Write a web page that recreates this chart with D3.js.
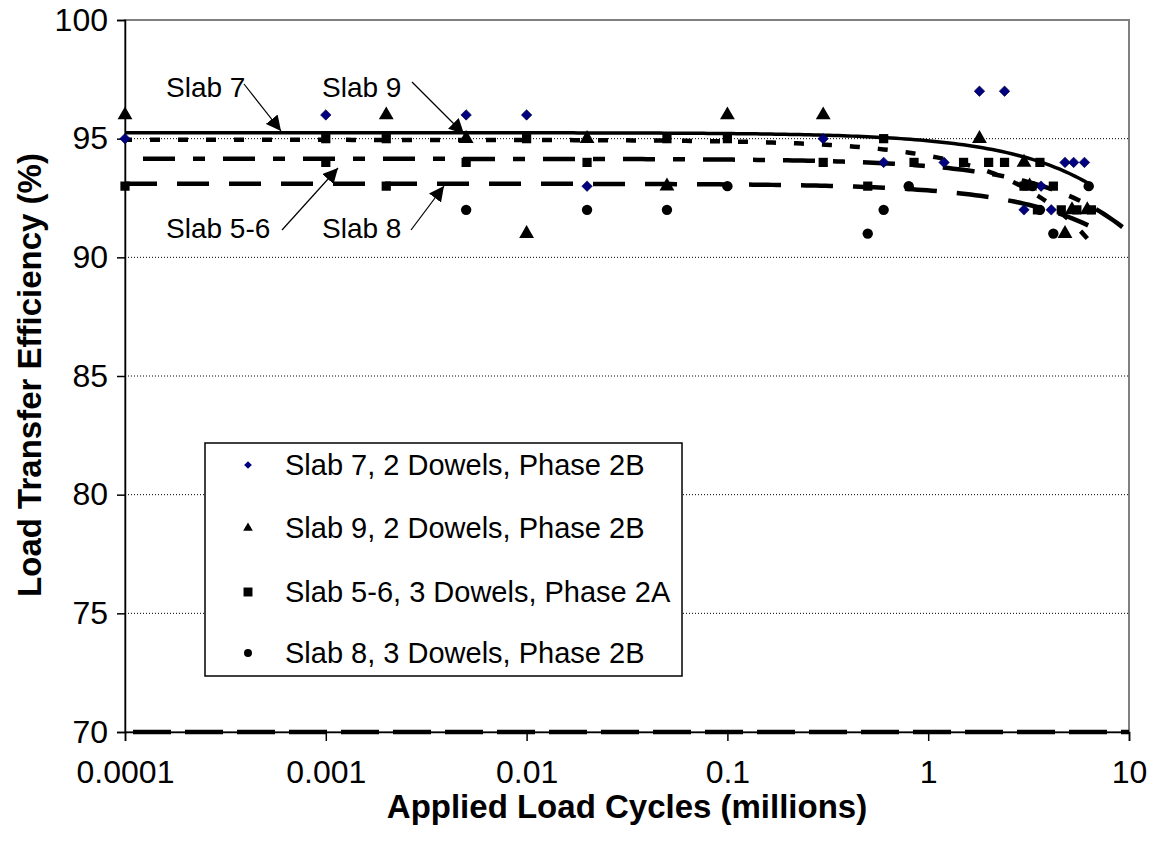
<!DOCTYPE html>
<html>
<head>
<meta charset="utf-8">
<script src="https://cdn.jsdelivr.net/npm/d3@7"></script>
<style>
body{margin:0;background:#fff;}
text{font-family:"Liberation Sans",Arial,sans-serif;}
</style>
</head>
<body>
<div id="chart"></div>
<script>
// ticks
var xTicks = [0.0001, 0.001, 0.01, 0.1, 1, 10];
var xTickLabels = ["0.0001", "0.001", "0.01", "0.1", "1", "10"];
var yTicks = [70, 75, 80, 85, 90, 95, 100];

// series (x = millions of cycles, y = LTE %)
var seriesNames = ["Slab 7, 2 Dowels, Phase 2B", "Slab 9, 2 Dowels, Phase 2B", "Slab 5-6, 3 Dowels, Phase 2A", "Slab 8, 3 Dowels, Phase 2B"];

var slab7X = [0.0001, 0.001, 0.005, 0.01, 0.02, 0.3, 0.6, 1.2, 1.8, 2.4, 3.0, 3.65, 4.1, 4.8, 5.3, 6.0];
var slab7Y = [95, 96, 96, 96, 93, 95, 94, 94, 97, 97, 92, 93, 92, 94, 94, 94];

var slab9X = [0.0001, 0.002, 0.005, 0.01, 0.02, 0.05, 0.1, 0.3, 1.8, 3.0, 3.2, 4.8, 5.2, 6.2];
var slab9Y = [96, 96, 95, 91, 95, 93, 96, 96, 95, 94, 93, 91, 92, 92];

var slab56X = [0.0001, 0.001, 0.001, 0.002, 0.002, 0.005, 0.01, 0.02, 0.05, 0.1, 0.3, 0.5, 0.6, 0.85, 1.5, 2.0, 2.4, 3.0, 3.6, 4.2, 3.5, 4.6, 5.5, 6.5];
var slab56Y = [93, 95, 94, 95, 93, 94, 95, 94, 95, 95, 94, 93, 95, 94, 94, 94, 94, 93, 94, 93, 92, 92, 92, 92];

var slab8X = [0.005, 0.02, 0.05, 0.1, 0.5, 0.6, 0.8, 3.3, 3.6, 4.2, 6.3];
var slab8Y = [92, 92, 92, 93, 91, 92, 93, 93, 92, 91, 93];

// linear trendlines: y = start - slope * x
var trendStart = [95.25, 94.95, 94.15, 93.1];
var trendSlope = [0.34, 0.67, 0.31, 0.28];
var trendEndX = [6.3, 6.5, 10, 6.5];

var lineAt70 = 70;

var W = 1153, H = 850;
var pLeft = 125, pRight = 1129, pTop = 20, pBottom = 732;

var svg = d3.select("#chart").append("svg")
	.attr("width", W)
	.attr("height", H);

var x = d3.scaleLog().domain([0.0001, 10]).range([pLeft, pRight]);
var y = d3.scaleLinear().domain([70, 100]).range([pBottom, pTop]);

// plot frame (grey) and grid
svg.append("rect")
	.attr("x", pLeft).attr("y", pTop)
	.attr("width", pRight - pLeft).attr("height", pBottom - pTop)
	.attr("fill", "none").attr("stroke", "#808080").attr("stroke-width", 2);

svg.selectAll(".grid")
	.data(yTicks.filter(function(d){ return d > 70 && d < 100; }))
	.enter().append("line")
	.attr("x1", pLeft).attr("x2", pRight)
	.attr("y1", function(d){ return y(d); })
	.attr("y2", function(d){ return y(d); })
	.attr("stroke", "#000").attr("stroke-width", 1)
	.attr("stroke-dasharray", "1,2");

// axes
var yAxis = d3.axisLeft(y).tickValues(yTicks).tickSize(8).tickPadding(9);
var gy = svg.append("g").attr("transform", "translate(" + pLeft + ",0)").call(yAxis);
gy.select(".domain").attr("stroke", "#000").attr("stroke-width", 1.5);
gy.selectAll(".tick line").attr("stroke", "#000").attr("stroke-width", 1.5);
gy.selectAll("text").attr("font-size", 32).attr("fill", "#000")
	.style("font-family", "'Liberation Sans',Arial,sans-serif");

var xAxis = d3.axisBottom(x).tickValues(xTicks)
	.tickFormat(function(d, i){ return xTickLabels[i]; })
	.tickSize(9).tickPadding(19);
var gx = svg.append("g").attr("transform", "translate(0," + pBottom + ")").call(xAxis);
gx.select(".domain").attr("stroke", "#000").attr("stroke-width", 1.5);
gx.selectAll(".tick line").attr("stroke", "#000").attr("stroke-width", 1.5);
gx.selectAll("text").attr("font-size", 32).attr("fill", "#000")
	.style("font-family", "'Liberation Sans',Arial,sans-serif");

// heavy dashed line along 70
svg.append("line")
	.attr("x1", x(0.0001)).attr("x2", x(10))
	.attr("y1", y(lineAt70)).attr("y2", y(lineAt70))
	.attr("stroke", "#000").attr("stroke-width", 4.5)
	.attr("stroke-dasharray", "38,14").attr("stroke-dashoffset", -8);

// trendlines
var dashes = [null, "10,18", "32,18,12,18", "32,20"];
var offsets = [0, -25, 62, 0];
var line = d3.line()
	.x(function(d){ return x(d[0]); })
	.y(function(d){ return y(d[1]); });

for (var t = 0; t < trendStart.length; t++){
	var pts = [];
	var lo = Math.log10(0.0001), hi = Math.log10(trendEndX[t]);
	for (var k = 0; k <= 200; k++){
		var xv = Math.pow(10, lo + (hi - lo) * k / 200);
		pts.push([xv, trendStart[t] - trendSlope[t] * xv]);
	}
	var p = svg.append("path")
		.datum(pts)
		.attr("d", line)
		.attr("fill", "none")
		.attr("stroke", "#000")
		.attr("stroke-width", t == 0 ? 3.5 : 4.5);
	if (dashes[t]) p.attr("stroke-dasharray", dashes[t]).attr("stroke-dashoffset", offsets[t]);
}

// markers (diamond = square turned 45 degrees)
var sym = [d3.symbolSquare, d3.symbolTriangle, d3.symbolSquare, d3.symbolCircle];
var symRot = [45, 0, 0, 0];
var symSize = [55, 95, 85, 85];
var symFill = ["#000080", "#000", "#000", "#000"];
var allX = [slab7X, slab9X, slab56X, slab8X];
var allY = [slab7Y, slab9Y, slab56Y, slab8Y];

function drawSeries(i){
	var data = allX[i].map(function(v, j){ return {x: v, y: allY[i][j]}; });
	svg.append("g").selectAll("path")
		.data(data)
		.enter().append("path")
		.attr("transform", function(d){ return "translate(" + x(d.x) + "," + y(d.y) + ") rotate(" + symRot[i] + ")"; })
		.attr("d", d3.symbol().type(sym[i]).size(symSize[i]))
		.attr("fill", symFill[i])
		.attr("stroke", i == 0 ? "#000033" : "none")
		.attr("stroke-width", 0.6);
}
for (var s = 0; s < 4; s++) drawSeries(s);

// annotations with arrows
svg.append("defs").append("marker")
	.attr("id", "arr")
	.attr("viewBox", "0 0 10 10")
	.attr("refX", 10).attr("refY", 5)
	.attr("markerWidth", 15).attr("markerHeight", 15)
	.attr("markerUnits", "userSpaceOnUse")
	.attr("orient", "auto")
	.append("path").attr("d", "M0,0 L10,5 L0,10 z").attr("fill", "#000");

var notes = [
	{t: "Slab 7", tx: 166, ty: 97, x1: 244, y1: 84, x2: 281, y2: 131},
	{t: "Slab 9", tx: 322, ty: 97, x1: 412, y1: 82, x2: 464, y2: 134},
	{t: "Slab 5-6", tx: 166, ty: 238, x1: 282, y1: 230, x2: 338, y2: 168},
	{t: "Slab 8", tx: 322, ty: 238, x1: 411, y1: 230, x2: 444, y2: 186}
];
notes.forEach(function(n){
	svg.append("text").attr("x", n.tx).attr("y", n.ty)
		.attr("font-size", 28).text(n.t);
	svg.append("line")
		.attr("x1", n.x1).attr("y1", n.y1).attr("x2", n.x2).attr("y2", n.y2)
		.attr("stroke", "#000").attr("stroke-width", 1.2)
		.attr("marker-end", "url(#arr)");
});

// legend
var lg = svg.append("g");
lg.append("rect")
	.attr("x", 205).attr("y", 443).attr("width", 477).attr("height", 233)
	.attr("fill", "#fff").attr("stroke", "#000").attr("stroke-width", 1.5);
var legY = [465, 528, 592, 653];
var legSize = [30, 40, 80, 50];
seriesNames.forEach(function(name, i){
	lg.append("path")
		.attr("transform", "translate(248," + legY[i] + ") rotate(" + symRot[i] + ")")
		.attr("d", d3.symbol().type(sym[i]).size(legSize[i]))
		.attr("fill", symFill[i]);
	lg.append("text").attr("x", 285).attr("y", legY[i] + 10)
		.attr("font-size", 29).text(name);
});

// axis titles
svg.append("text")
	.attr("x", (pLeft + pRight) / 2).attr("y", 818)
	.attr("text-anchor", "middle")
	.attr("font-size", 33).attr("font-weight", "bold")
	.text("Applied Load Cycles (millions)");

svg.append("text")
	.attr("transform", "translate(41,375) rotate(-90)")
	.attr("text-anchor", "middle")
	.attr("font-size", 33).attr("font-weight", "bold")
	.text("Load Transfer Efficiency (%)");
</script>
</body>
</html>
